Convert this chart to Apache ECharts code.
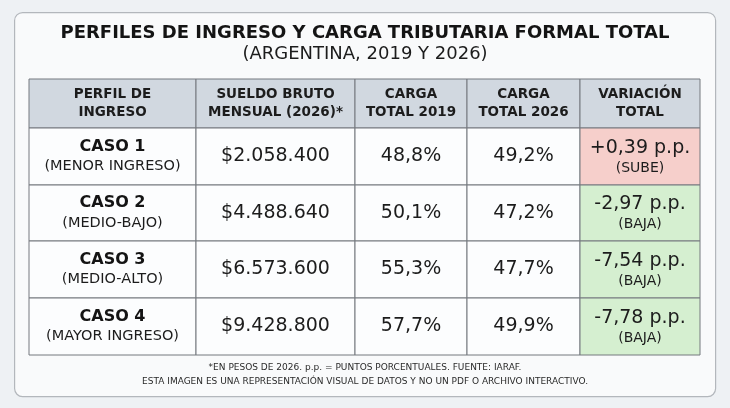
<!DOCTYPE html>
<html>
<head>
<meta charset="utf-8">
<script src="https://cdn.jsdelivr.net/npm/echarts@6/dist/echarts.min.js"></script>
<style>
  html, body { margin: 0; padding: 0; background: #eef1f4; }
  #chart { width: 730px; height: 408px; }
</style>
</head>
<body>
<div id="chart"></div>
<script>
// datos de la tabla
const headers = ['PERFIL DE\nINGRESO', 'SUELDO BRUTO\nMENSUAL (2026)*', 'CARGA\nTOTAL 2019', 'CARGA\nTOTAL 2026', 'VARIACIÓN\nTOTAL'];
const casos = ['CASO 1', 'CASO 2', 'CASO 3', 'CASO 4'];
const perfiles = ['(MENOR INGRESO)', '(MEDIO-BAJO)', '(MEDIO-ALTO)', '(MAYOR INGRESO)'];
const sueldos = [2058400, 4488640, 6573600, 9428800];
const carga2019 = [48.8, 50.1, 55.3, 57.7];
const carga2026 = [49.2, 47.2, 47.7, 49.9];
const variacion = [0.39, -2.97, -7.54, -7.78];

// layout (px)
const colWidths = [167, 159, 112, 113, 120];
const rowHeights = [49, 57, 56, 57, 57];
const FONT = 'DejaVu Sans, sans-serif';

function miles(n) {
  return '$' + String(n).replace(/\B(?=(\d{3})+(?!\d))/g, '.');
}
function pct(v) {
  return v.toFixed(1).replace('.', ',') + '%';
}
function pp(v) {
  return (v > 0 ? '+' : '') + v.toFixed(2).replace('.', ',') + ' p.p.';
}

var colEdges = [0];
colWidths.forEach(function (w, i) { colEdges.push(colEdges[i] + w); });
var rowEdges = [0];
rowHeights.forEach(function (h, i) { rowEdges.push(rowEdges[i] + h); });

// celdas: [col, fila]
var cells = [];
for (var r = 0; r < 5; r++) {
  for (var c = 0; c < 5; c++) cells.push([c, r]);
}

function cellText(c, r) {
  if (r === 0) {
    return '{h|' + headers[c].split('\n').join('}\n{h|') + '}';
  }
  var i = r - 1;
  if (c === 0) return '{b|' + casos[i] + '}\n{s|' + perfiles[i] + '}';
  if (c === 1) return '{v|' + miles(sueldos[i]) + '}';
  if (c === 2) return '{v|' + pct(carga2019[i]) + '}';
  if (c === 3) return '{v|' + pct(carga2026[i]) + '}';
  return '{v|' + pp(variacion[i]) + '}\n{s2|' + (variacion[i] > 0 ? '(SUBE)' : '(BAJA)') + '}';
}

function cellFill(c, r) {
  if (r === 0) return '#d1d8e0';
  if (c === 4) return variacion[r - 1] > 0 ? '#f6cfcb' : '#d5efd0';
  return '#fcfdfe';
}

var chart = echarts.init(document.getElementById('chart'));
chart.setOption({
  backgroundColor: '#eef1f4',
  animation: false,
  title: {
    text: 'PERFILES DE INGRESO Y CARGA TRIBUTARIA FORMAL TOTAL',
    subtext: '(ARGENTINA, 2019 Y 2026)',
    left: 'center',
    top: 19,
    itemGap: 3,
    textStyle: { fontFamily: FONT, fontSize: 18, fontWeight: 'bold', color: '#141414' },
    subtextStyle: { fontFamily: FONT, fontSize: 18, color: '#1c1c1c' }
  },
  graphic: [
    {
      type: 'rect', z: -10, left: 14, top: 12,
      shape: { width: 701, height: 384, r: 8 },
      style: { fill: '#f9fafb', stroke: '#b3b7bc', lineWidth: 1.2 }
    },
    {
      type: 'text', left: 'center', top: 363,
      style: { text: '*EN PESOS DE 2026. p.p. = PUNTOS PORCENTUALES. FUENTE: IARAF.', fontFamily: FONT, fontSize: 9, fill: '#2a2a2a' }
    },
    {
      type: 'text', left: 'center', top: 377,
      style: { text: 'ESTA IMAGEN ES UNA REPRESENTACIÓN VISUAL DE DATOS Y NO UN PDF O ARCHIVO INTERACTIVO.', fontFamily: FONT, fontSize: 9, fill: '#2a2a2a' }
    }
  ],
  grid: { left: 29, top: 79, width: colEdges[5], height: rowEdges[5] },
  xAxis: { type: 'value', min: 0, max: colEdges[5], show: false },
  yAxis: { type: 'value', min: 0, max: rowEdges[5], inverse: true, show: false },
  series: [{
    type: 'custom',
    data: cells,
    renderItem: function (params, api) {
      var c = api.value(0), r = api.value(1);
      var p0 = api.coord([colEdges[c], rowEdges[r]]);
      var p1 = api.coord([colEdges[c + 1], rowEdges[r + 1]]);
      return {
        type: 'group',
        children: [
          {
            type: 'rect',
            shape: { x: p0[0], y: p0[1], width: p1[0] - p0[0], height: p1[1] - p0[1] },
            style: { fill: cellFill(c, r), stroke: '#75797e', lineWidth: 1 }
          },
          {
            type: 'text',
            style: {
              text: cellText(c, r),
              x: (p0[0] + p1[0]) / 2,
              y: (p0[1] + p1[1]) / 2,
              align: 'center',
              verticalAlign: 'middle',
              fill: '#1c1c1c',
              fontFamily: FONT,
              rich: {
                h: { fontFamily: FONT, fontSize: 13.5, fontWeight: 'bold', lineHeight: 18, fill: '#1c1c1c', align: 'center' },
                b: { fontFamily: FONT, fontSize: 16, fontWeight: 'bold', lineHeight: 20, fill: '#141414', align: 'center' },
                s: { fontFamily: FONT, fontSize: 14.5, lineHeight: 20, fill: '#1c1c1c', align: 'center' },
                s2: { fontFamily: FONT, fontSize: 14, lineHeight: 17, fill: '#1c1c1c', align: 'center' },
                v: { fontFamily: FONT, fontSize: 19, lineHeight: 23, fill: '#1c1c1c', align: 'center' }
              }
            }
          }
        ]
      };
    }
  }]
});
</script>
</body>
</html>
